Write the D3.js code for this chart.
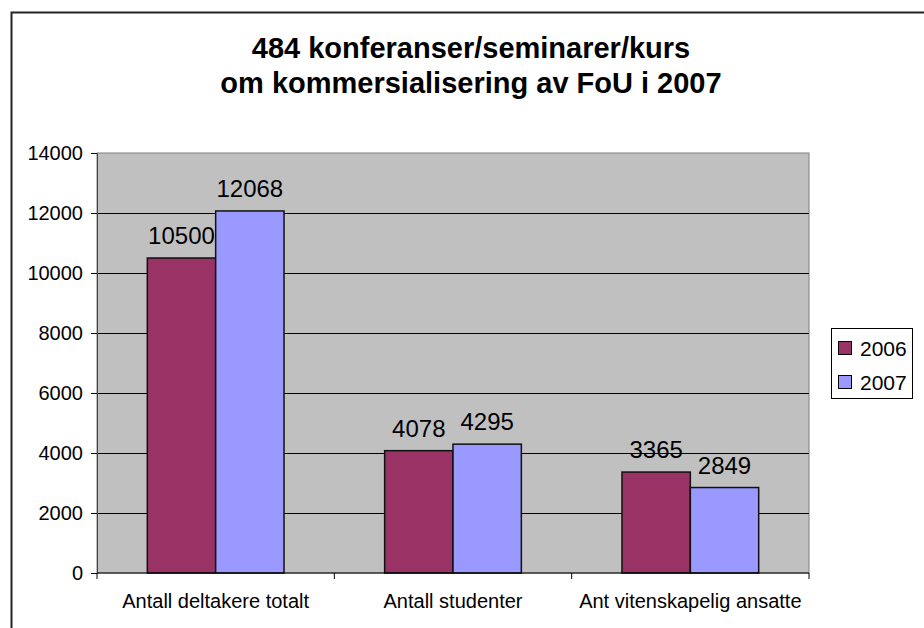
<!DOCTYPE html>
<html lang="no">
<head>
  <meta charset="UTF-8">
  <title>484 konferanser/seminarer/kurs</title>
  <script src="https://d3js.org/d3.v7.min.js"></script>
  <style>
    body { margin: 0; background: #fff; }
    text { font-family: Arial, "Liberation Sans", sans-serif; }
  </style>
</head>
<body>
  <svg width="924" height="628"></svg>
  <script>
    const categories = ["Antall deltakere totalt", "Antall studenter", "Ant vitenskapelig ansatte"];
    const seriesNames = ["2006", "2007"];
    const values2006 = [10500, 4078, 3365];
    const values2007 = [12068, 4295, 2849];
    const yTicks = [0, 2000, 4000, 6000, 8000, 10000, 12000, 14000];
    const colors = ["#993366", "#9999ff"];

    const svg = d3.select("svg");
    const width = +svg.attr("width");
    const height = +svg.attr("height");

    // chart frame (runs off right and bottom edge)
    svg.append("path")
      .attr("d", `M11.5,${height + 5}V12.5H${width + 5}`)
      .attr("fill", "none")
      .attr("stroke", "#222")
      .attr("stroke-width", 2);

    // title
    const title = svg.append("text")
      .attr("text-anchor", "middle")
      .attr("font-weight", "bold")
      .attr("font-size", 29);
    title.append("tspan").attr("x", 471).attr("y", 58).text("484 konferanser/seminarer/kurs");
    title.append("tspan").attr("x", 471).attr("y", 93).text("om kommersialisering av FoU i 2007");

    const margin = {top: 153, right: 115, bottom: 55, left: 97};
    const innerWidth = width - margin.left - margin.right;
    const innerHeight = height - margin.top - margin.bottom;
    const g = svg.append("g").attr("transform", `translate(${margin.left},${margin.top})`);

    const x0 = d3.scaleBand().domain(categories).range([0, innerWidth]).paddingInner(0.424).paddingOuter(0.212);
    const x1 = d3.scaleBand().domain(seriesNames).range([0, x0.bandwidth()]);
    const y = d3.scaleLinear().domain([0, 14000]).range([innerHeight, 0]);

    // plot background
    g.append("rect")
      .attr("width", innerWidth)
      .attr("height", innerHeight)
      .attr("fill", "#c0c0c0")
      .attr("stroke", "#808080");

    // gridlines
    g.append("g")
      .selectAll("line")
      .data(yTicks.filter(d => d > 0 && d < 14000))
      .join("line")
      .attr("x1", 0).attr("x2", innerWidth)
      .attr("y1", d => Math.round(y(d)) + 0.5).attr("y2", d => Math.round(y(d)) + 0.5)
      .attr("stroke", "#000");

    const data = categories.map((c, i) => ({cat: c, vals: [values2006[i], values2007[i]]}));

    const groups = g.append("g").selectAll("g")
      .data(data)
      .join("g")
      .attr("transform", d => `translate(${x0(d.cat)},0)`);

    groups.selectAll("rect")
      .data(d => d.vals.map((v, i) => ({v, s: seriesNames[i], i})))
      .join("rect")
      .attr("x", d => x1(d.s))
      .attr("y", d => y(d.v))
      .attr("width", x1.bandwidth())
      .attr("height", d => innerHeight - y(d.v))
      .attr("fill", d => colors[d.i])
      .attr("stroke", "#111")
      .attr("stroke-width", 1.5);

    groups.selectAll("text")
      .data(d => d.vals.map((v, i) => ({v, s: seriesNames[i]})))
      .join("text")
      .attr("x", d => x1(d.s) + x1.bandwidth() / 2)
      .attr("y", d => y(d.v) - 14)
      .attr("text-anchor", "middle")
      .attr("font-size", 24)
      .text(d => d.v);

    // y axis
    const yAxis = g.append("g")
      .call(d3.axisLeft(y).tickValues(yTicks).tickSize(6).tickPadding(8).tickFormat(d3.format("d")));
    yAxis.select(".domain").attr("stroke", "#444");
    yAxis.selectAll("text").attr("font-size", 20).attr("font-family", "Arial, 'Liberation Sans', sans-serif").attr("fill", "#000");

    // x axis with ticks between categories
    const xAxis = g.append("g").attr("transform", `translate(0,${innerHeight})`);
    xAxis.append("line").attr("x1", 0).attr("x2", innerWidth).attr("stroke", "#000");
    xAxis.selectAll("line.tk")
      .data(d3.range(categories.length + 1))
      .join("line")
      .attr("class", "tk")
      .attr("x1", i => i * innerWidth / categories.length)
      .attr("x2", i => i * innerWidth / categories.length)
      .attr("y1", 0).attr("y2", 6)
      .attr("stroke", "#000");
    xAxis.selectAll("text")
      .data(categories)
      .join("text")
      .attr("x", d => x0(d) + x0.bandwidth() / 2)
      .attr("y", 35)
      .attr("text-anchor", "middle")
      .attr("font-size", 20)
      .text(d => d);

    // legend
    const legend = svg.append("g").attr("transform", "translate(831,328)");
    legend.append("rect")
      .attr("x", 0.5).attr("y", 0.5)
      .attr("width", 81).attr("height", 70)
      .attr("fill", "#fff").attr("stroke", "#000");
    seriesNames.forEach((s, i) => {
      legend.append("rect")
        .attr("x", 7.5).attr("y", 13.5 + i * 34)
        .attr("width", 13).attr("height", 13)
        .attr("fill", colors[i]).attr("stroke", "#000");
      legend.append("text")
        .attr("x", 29).attr("y", 28 + i * 34)
        .attr("font-size", 21)
        .text(s);
    });
  </script>
</body>
</html>
